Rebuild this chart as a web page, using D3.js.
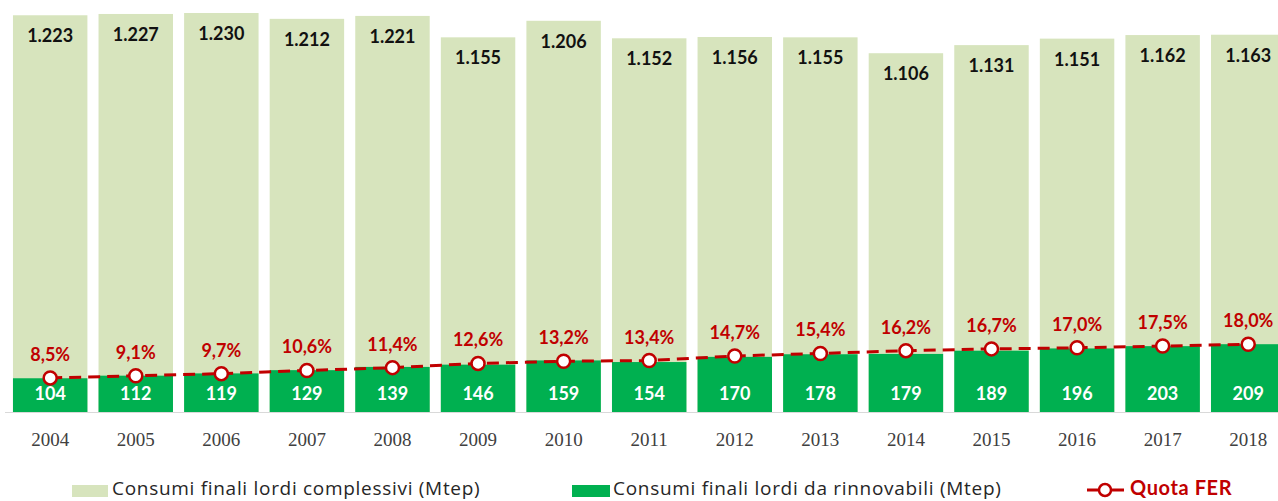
<!DOCTYPE html>
<html>
<head>
<meta charset="utf-8">
<script src="https://cdn.jsdelivr.net/npm/d3@7"></script>
<style>
  html, body { margin: 0; padding: 0; background: #fff; }
  svg { display: block; }
  .num { font-family: Lato, "Open Sans", sans-serif; font-weight: 700; }
  .year { font-family: "Liberation Serif", serif; font-size: 19px; fill: #404040; }
  .leg { font-family: "Open Sans", sans-serif; font-size: 19px; letter-spacing: 0.7px; fill: #262626; }
</style>
</head>
<body>
<div id="chart"></div>
<script>
// years on the x axis
const years = ["2004","2005","2006","2007","2008","2009","2010","2011","2012","2013","2014","2015","2016","2017","2018"];
// Consumi finali lordi complessivi (Mtep)
const totale = [1223, 1227, 1230, 1212, 1221, 1155, 1206, 1152, 1156, 1155, 1106, 1131, 1151, 1162, 1163];
// Consumi finali lordi da rinnovabili (Mtep)
const rinnovabili = [104, 112, 119, 129, 139, 146, 159, 154, 170, 178, 179, 189, 196, 203, 209];
// Quota FER (%)
const quota = [8.5, 9.1, 9.7, 10.6, 11.4, 12.6, 13.2, 13.4, 14.7, 15.4, 16.2, 16.7, 17.0, 17.5, 18.0];

const legendLabels = ["Consumi finali lordi complessivi (Mtep)", "Consumi finali lordi da rinnovabili (Mtep)", "Quota FER"];

const width = 1278, height = 501;
const baseY = 412;
const lightGreen = "#d7e4bd", green = "#00b050", red = "#c00000";

const svg = d3.select("#chart").append("svg")
  .attr("width", width)
  .attr("height", height);

const x = d3.scaleBand()
  .domain(years)
  .range([7.4, 1291])
  .paddingInner(0.13)
  .paddingOuter(0.065);

const y = d3.scaleLinear()
  .domain([0, 1230])
  .range([baseY, 13]);

const yPct = d3.scaleLinear()
  .domain([0, 20])
  .range([408, 337.2]);

const fmtTot = d3.formatLocale({decimal: ",", thousands: ".", grouping: [3]}).format(",d");
const fmtPct = d => d.toFixed(1).replace(".", ",") + "%";

// total bars
svg.append("g").selectAll("rect")
  .data(totale)
  .join("rect")
  .attr("x", (d, i) => x(years[i]))
  .attr("y", d => y(d))
  .attr("width", x.bandwidth())
  .attr("height", d => baseY - y(d))
  .attr("fill", lightGreen);

// renewable bars
svg.append("g").selectAll("rect")
  .data(rinnovabili)
  .join("rect")
  .attr("x", (d, i) => x(years[i]))
  .attr("y", d => y(d))
  .attr("width", x.bandwidth())
  .attr("height", d => baseY - y(d))
  .attr("fill", green);

// baseline
svg.append("line")
  .attr("x1", 5).attr("x2", width)
  .attr("y1", baseY + 0.5).attr("y2", baseY + 0.5)
  .attr("stroke", "#d9d9d9");

// total labels
svg.append("g").selectAll("text")
  .data(totale)
  .join("text")
  .attr("class", "num")
  .attr("x", (d, i) => x(years[i]) + x.bandwidth() / 2)
  .attr("y", d => y(d) + 27)
  .attr("text-anchor", "middle")
  .style("font-size", "18px")
  .attr("fill", "#111")
  .text(d => fmtTot(d));

// renewable labels
svg.append("g").selectAll("text")
  .data(rinnovabili)
  .join("text")
  .attr("class", "num")
  .attr("x", (d, i) => x(years[i]) + x.bandwidth() / 2)
  .attr("y", baseY - 12)
  .attr("text-anchor", "middle")
  .style("font-size", "18px")
  .attr("fill", "#fff")
  .text(d => d);

// quota line
const cx = (d, i) => x(years[i]) + x.bandwidth() / 2;
const line = d3.line()
  .x(cx)
  .y(d => yPct(d));

svg.append("path")
  .datum(quota)
  .attr("d", line)
  .attr("fill", "none")
  .attr("stroke", red)
  .attr("stroke-width", 3)
  .attr("stroke-dasharray", "12,7");

svg.append("g").selectAll("circle")
  .data(quota)
  .join("circle")
  .attr("cx", cx)
  .attr("cy", d => yPct(d))
  .attr("r", 6.5)
  .attr("fill", "#fff")
  .attr("stroke", red)
  .attr("stroke-width", 2.5);

svg.append("g").selectAll("text")
  .data(quota)
  .join("text")
  .attr("class", "num")
  .attr("x", cx)
  .attr("y", d => yPct(d) - 17)
  .attr("text-anchor", "middle")
  .style("font-size", "18px")
  .attr("fill", red)
  .text(fmtPct);

// x axis labels
const xAxis = d3.axisBottom(x).tickSize(0).tickPadding(0);
const gx = svg.append("g")
  .attr("transform", `translate(0,${baseY})`)
  .call(xAxis);
gx.select(".domain").remove();
gx.selectAll("text")
  .attr("class", "year")
  .attr("dy", null)
  .attr("y", 34)
  .attr("fill", null);

// legend
const legY = 495;
const leg = svg.append("g");
leg.append("rect").attr("x", 72).attr("y", legY - 10).attr("width", 36).attr("height", 12).attr("fill", lightGreen);
leg.append("text").attr("class", "leg").attr("x", 112).attr("y", legY).text(legendLabels[0]);
leg.append("rect").attr("x", 572).attr("y", legY - 10).attr("width", 38).attr("height", 12).attr("fill", green);
leg.append("text").attr("class", "leg").attr("x", 613).attr("y", legY).text(legendLabels[1]);
leg.append("line").attr("x1", 1087).attr("x2", 1124).attr("y1", legY - 5).attr("y2", legY - 5)
  .attr("stroke", red).attr("stroke-width", 3);
leg.append("circle").attr("cx", 1105).attr("cy", legY - 5).attr("r", 6)
  .attr("fill", "#fff").attr("stroke", red).attr("stroke-width", 2.5);
leg.append("text").attr("class", "num").attr("x", 1130).attr("y", legY)
  .style("font-size", "20px").style("letter-spacing", "0.6px").attr("fill", red).text(legendLabels[2]);
</script>
</body>
</html>
